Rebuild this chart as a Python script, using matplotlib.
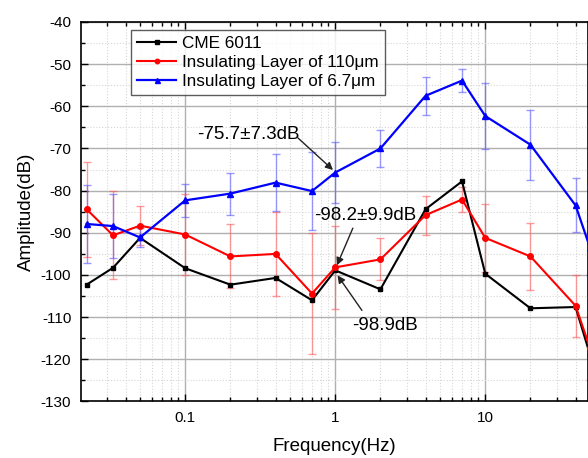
import numpy as np
import matplotlib
matplotlib.use('Agg')
import matplotlib.pyplot as plt
from matplotlib.ticker import LogLocator, MultipleLocator, FixedLocator, FixedFormatter, NullFormatter

plt.rcParams['font.family'] = ['Liberation Sans', 'DejaVu Sans']
plt.rcParams['axes.unicode_minus'] = False

# frequency points (Hz)
freq = [0.022, 0.033, 0.05, 0.1, 0.2, 0.4, 0.7, 1, 2, 4, 7, 10, 20, 40, 50]

cme = [-102.3, -98.3, -91.2, -98.4, -102.3, -100.7, -106.0, -98.9, -103.4, -84.4, -77.8, -99.7, -107.9, -107.6, -119.0]
layer110 = [-84.4, -90.6, -88.3, -90.4, -95.6, -95.0, -104.4, -98.2, -96.3, -85.8, -82.1, -91.2, -95.6, -107.3, -117.4]
layer110_err = [11.3, 10.4, 4.6, 9.5, 7.6, 10.0, 14.3, 9.9, 5.0, 4.6, 2.9, 8.1, 7.9, 7.4, 7.5]
layer67 = [-87.9, -88.4, -91.1, -82.3, -80.7, -78.1, -80.1, -75.7, -70.0, -57.5, -53.9, -62.3, -69.1, -83.5, -93.6]
layer67_err = [9.2, 7.5, 2.2, 3.9, 5.0, 6.8, 9.3, 7.3, 4.3, 4.5, 2.8, 7.8, 8.3, 6.4, 6.5]

xticks = [0.1, 1, 10]
xticklabels = ['0.1', '1', '10']

# annotation texts: (label, text pos, arrow start, arrow tip)
notes = [
    ('-75.7\u00b17.3dB', (0.262, -66.8), (0.564, -67.5), (0.966, -75.1)),
    ('-98.2\u00b19.9dB', (1.58, -85.8), (1.31, -88.9), (1.026, -97.7)),
    ('-98.9dB', (2.14, -112.0), (1.506, -108.4), (1.036, -100.1)),
]

fig = plt.figure(figsize=(5.88, 4.58), dpi=100)
ax = fig.add_axes([0.1378, 0.1234, 0.8622, 0.8286])

# error bars (faint) first, lines on top
ax.errorbar(freq, layer110, yerr=layer110_err, fmt='none', ecolor=(1, 0.35, 0.35, 0.6),
            elinewidth=1.0, capsize=3, capthick=1.0, zorder=2)
ax.errorbar(freq, layer67, yerr=layer67_err, fmt='none', ecolor=(0.35, 0.35, 1, 0.6),
            elinewidth=1.0, capsize=3, capthick=1.0, zorder=2)

ax.plot(freq, cme, color='black', marker='s', ms=3.5, lw=1.5, label='CME 6011', zorder=3)
ax.plot(freq, layer110, color='red', marker='o', ms=4, lw=1.5,
        label='Insulating Layer of 110\u03bcm', zorder=4)
ax.plot(freq, layer67, color='blue', marker='^', ms=4.5, lw=1.6,
        label='Insulating Layer of 6.7\u03bcm', zorder=5)

ax.set_xscale('log')
ax.set_xlim(0.0202, 48.4)
ax.set_ylim(-130, -40)

ax.xaxis.set_major_locator(FixedLocator(xticks))
ax.xaxis.set_major_formatter(FixedFormatter(xticklabels))
ax.xaxis.set_minor_locator(LogLocator(base=10, subs=np.arange(2, 10)))
ax.xaxis.set_minor_formatter(NullFormatter())
ax.yaxis.set_major_locator(MultipleLocator(10))
ax.yaxis.set_minor_locator(MultipleLocator(5))

ax.grid(which='major', color='#b0b0b0', lw=1.0, ls='-', zorder=0)
ax.grid(which='minor', color='#d6d6d6', lw=0.8, ls=':', zorder=0)
ax.set_axisbelow(True)

ax.tick_params(which='both', direction='in', top=True, right=False, labelsize=11, pad=7)
ax.tick_params(which='major', length=5, width=1)
ax.tick_params(which='minor', length=3, width=1)
for s in ax.spines.values():
    s.set_linewidth(1.2)

ax.set_xlabel('Frequency(Hz)', fontsize=13.5, labelpad=9)
ax.set_ylabel('Amplitude(dB)', fontsize=13.5, labelpad=4)

leg = ax.legend(loc='upper left', bbox_to_anchor=(0.0986, 0.979), borderaxespad=0,
                fontsize=12.3, frameon=True, fancybox=False, handlelength=2.3,
                borderpad=0.35, labelspacing=0.25, handletextpad=0.35, markerscale=0.8)
leg.get_frame().set_edgecolor('#333333')
leg.get_frame().set_linewidth(1.0)

# annotations
for label, tpos, start, tip in notes:
    ax.text(tpos[0], tpos[1], label, fontsize=13.5, ha='center', va='center', zorder=6)
    ax.annotate('', xy=tip, xytext=start,
                arrowprops=dict(arrowstyle='-|>', color='#222222', lw=1.0,
                                mutation_scale=11, shrinkA=0, shrinkB=0), zorder=6)

fig.savefig('out.png', dpi=100)
